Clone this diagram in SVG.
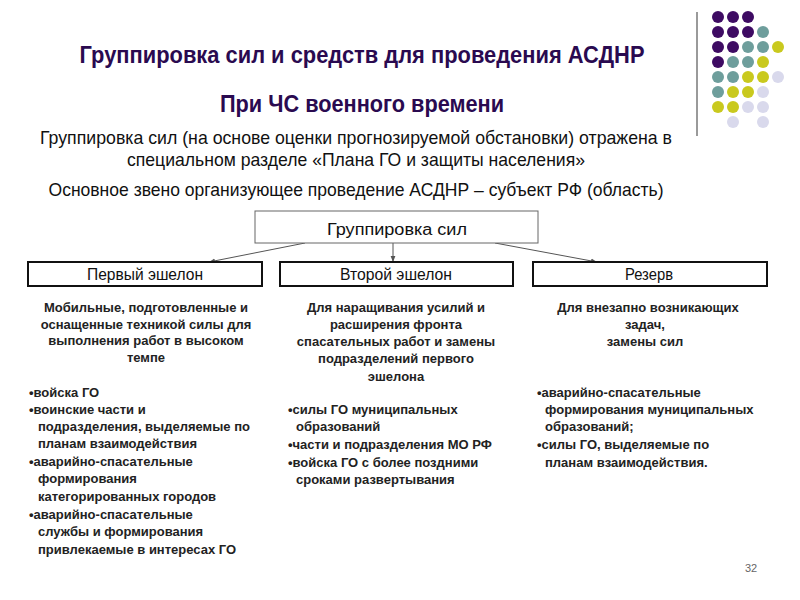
<svg xmlns="http://www.w3.org/2000/svg" width="800" height="600" viewBox="0 0 800 600">
<defs>
<marker id="arr" viewBox="0 0 10 10" refX="10" refY="5" markerWidth="6" markerHeight="6" orient="auto" markerUnits="userSpaceOnUse">
<path d="M0,1 L10,5 L0,9 z" fill="#555"/>
</marker>
<style>
.pu{fill:#3E0B63}.te{fill:#6E9E9C}.ye{fill:#C9C91E}.la{fill:#D9D9EC}
.title{font-family:"Liberation Sans Narrow","Liberation Sans",Arial,sans-serif;font-weight:bold;font-size:24px;fill:#2A0A50;text-anchor:middle}
.sub{font-family:"Liberation Sans Narrow","Liberation Sans",Arial,sans-serif;font-size:18.5px;fill:#111;text-anchor:middle}
.box{fill:#fff;stroke:#111;stroke-width:2}
.gbox{fill:#fff;stroke:#666;stroke-width:1}
.bl{font-family:"Liberation Sans Narrow","Liberation Sans",Arial,sans-serif;font-size:16px;fill:#111;text-anchor:middle}
.ct{font-family:"Liberation Sans",Arial,sans-serif;font-weight:bold;font-size:13px;fill:#222}
.cm{text-anchor:middle}
.conn line{stroke:#555;stroke-width:1}
</style>
</defs>
<rect width="800" height="600" fill="#fff"/>
<g id="decor">
<line x1="697" y1="12" x2="697" y2="136" stroke="#9a9a9a" stroke-width="2"/>
<circle class="pu" cx="718" cy="17" r="6"/><circle class="pu" cx="733" cy="17" r="6"/><circle class="pu" cx="748" cy="17" r="6"/>
<circle class="pu" cx="718" cy="32" r="6"/><circle class="pu" cx="733" cy="32" r="6"/><circle class="pu" cx="748" cy="32" r="6"/><circle class="te" cx="763" cy="32" r="6"/>
<circle class="pu" cx="718" cy="47" r="6"/><circle class="pu" cx="733" cy="47" r="6"/><circle class="te" cx="748" cy="47" r="6"/><circle class="te" cx="763" cy="47" r="6"/><circle class="ye" cx="778" cy="47" r="6"/>
<circle class="pu" cx="718" cy="62" r="6"/><circle class="te" cx="733" cy="62" r="6"/><circle class="te" cx="748" cy="62" r="6"/><circle class="ye" cx="763" cy="62" r="6"/>
<circle class="te" cx="718" cy="77" r="6"/><circle class="te" cx="733" cy="77" r="6"/><circle class="ye" cx="748" cy="77" r="6"/><circle class="ye" cx="763" cy="77" r="6"/><circle class="la" cx="778" cy="77" r="6"/>
<circle class="te" cx="718" cy="92" r="6"/><circle class="ye" cx="733" cy="92" r="6"/><circle class="ye" cx="748" cy="92" r="6"/><circle class="la" cx="763" cy="92" r="6"/>
<circle class="ye" cx="718" cy="107" r="6"/><circle class="ye" cx="733" cy="107" r="6"/><circle class="la" cx="748" cy="107" r="6"/><circle class="la" cx="763" cy="107" r="6"/>
<circle class="la" cx="733" cy="122" r="6"/><circle class="la" cx="763" cy="122" r="6"/>
</g>
<g id="header">
<text class="title" x="362" y="63" textLength="565" lengthAdjust="spacingAndGlyphs">Группировка сил и средств для проведения АСДНР</text>
<text class="title" x="362" y="112" textLength="284" lengthAdjust="spacingAndGlyphs">При ЧС военного времени</text>
<text class="sub" x="356" y="144" textLength="632" lengthAdjust="spacingAndGlyphs">Группировка сил (на основе оценки прогнозируемой обстановки) отражена в</text>
<text class="sub" x="356" y="166" textLength="458" lengthAdjust="spacingAndGlyphs">специальном разделе «Плана ГО и защиты населения»</text>
<text class="sub" x="356" y="196" textLength="615" lengthAdjust="spacingAndGlyphs">Основное звено организующее проведение АСДНР – субъект РФ (область)</text>
</g>
<g id="connectors" class="conn">
<line x1="305" y1="243" x2="209" y2="262" marker-end="url(#arr)"/>
<line x1="393" y1="243" x2="393" y2="262" marker-end="url(#arr)"/>
<line x1="495" y1="243" x2="597" y2="262" marker-end="url(#arr)"/>
</g>
<g id="node-group">
<rect class="gbox" x="255" y="211" width="283" height="32"/>
<text class="bl" x="397" y="235" font-size="18.5" textLength="140" lengthAdjust="spacingAndGlyphs">Группировка сил</text>
</g>
<g id="node-first">
<rect class="box" x="28" y="262" width="234" height="24"/>
<text class="bl" x="145" y="280" textLength="116" lengthAdjust="spacingAndGlyphs">Первый эшелон</text>
</g>
<g id="node-second">
<rect class="box" x="280" y="262" width="233" height="24"/>
<text class="bl" x="396" y="280" textLength="112" lengthAdjust="spacingAndGlyphs">Второй эшелон</text>
</g>
<g id="node-reserve">
<rect class="box" x="533" y="262" width="234" height="24"/>
<text class="bl" x="649" y="280" textLength="48" lengthAdjust="spacingAndGlyphs">Резерв</text>
</g>
<g id="col-first" class="ct">
<text class="cm" x="146" y="312">Мобильные, подготовленные и</text>
<text class="cm" x="146" y="329">оснащенные техникой силы для</text>
<text class="cm" x="146" y="345">выполнения работ в высоком</text>
<text class="cm" x="146" y="362">темпе</text>
<text x="29" y="397">•войска ГО</text>
<text x="29" y="414">•воинские части и</text>
<text x="38" y="431">подразделения, выделяемые по</text>
<text x="38" y="448">планам взаимодействия</text>
<text x="29" y="466">•аварийно-спасательные</text>
<text x="38" y="483">формирования</text>
<text x="38" y="501">категорированных городов</text>
<text x="29" y="519">•аварийно-спасательные</text>
<text x="38" y="536">службы и формирования</text>
<text x="38" y="554">привлекаемые в интересах ГО</text>
</g>
<g id="col-second" class="ct">
<text class="cm" x="396" y="312">Для наращивания усилий и</text>
<text class="cm" x="396" y="329">расширения фронта</text>
<text class="cm" x="396" y="346">спасательных работ и замены</text>
<text class="cm" x="396" y="363">подразделений первого</text>
<text class="cm" x="396" y="381">эшелона</text>
<text x="288" y="414">•силы ГО муниципальных</text>
<text x="296" y="431">образований</text>
<text x="288" y="449">•части и подразделения МО РФ</text>
<text x="288" y="467">•войска ГО с более поздними</text>
<text x="296" y="484">сроками развертывания</text>
</g>
<g id="col-reserve" class="ct">
<text class="cm" x="648" y="312">Для внезапно возникающих</text>
<text class="cm" x="645" y="329">задач,</text>
<text class="cm" x="645" y="346">замены сил</text>
<text x="537" y="397">•аварийно-спасательные</text>
<text x="545" y="414">формирования муниципальных</text>
<text x="545" y="431">образований;</text>
<text x="537" y="449">•силы ГО, выделяемые по</text>
<text x="545" y="467">планам взаимодействия.</text>
</g>
<text x="745" y="572" font-family="Liberation Sans, Arial, sans-serif" font-size="11" fill="#666">32</text>
</svg>
